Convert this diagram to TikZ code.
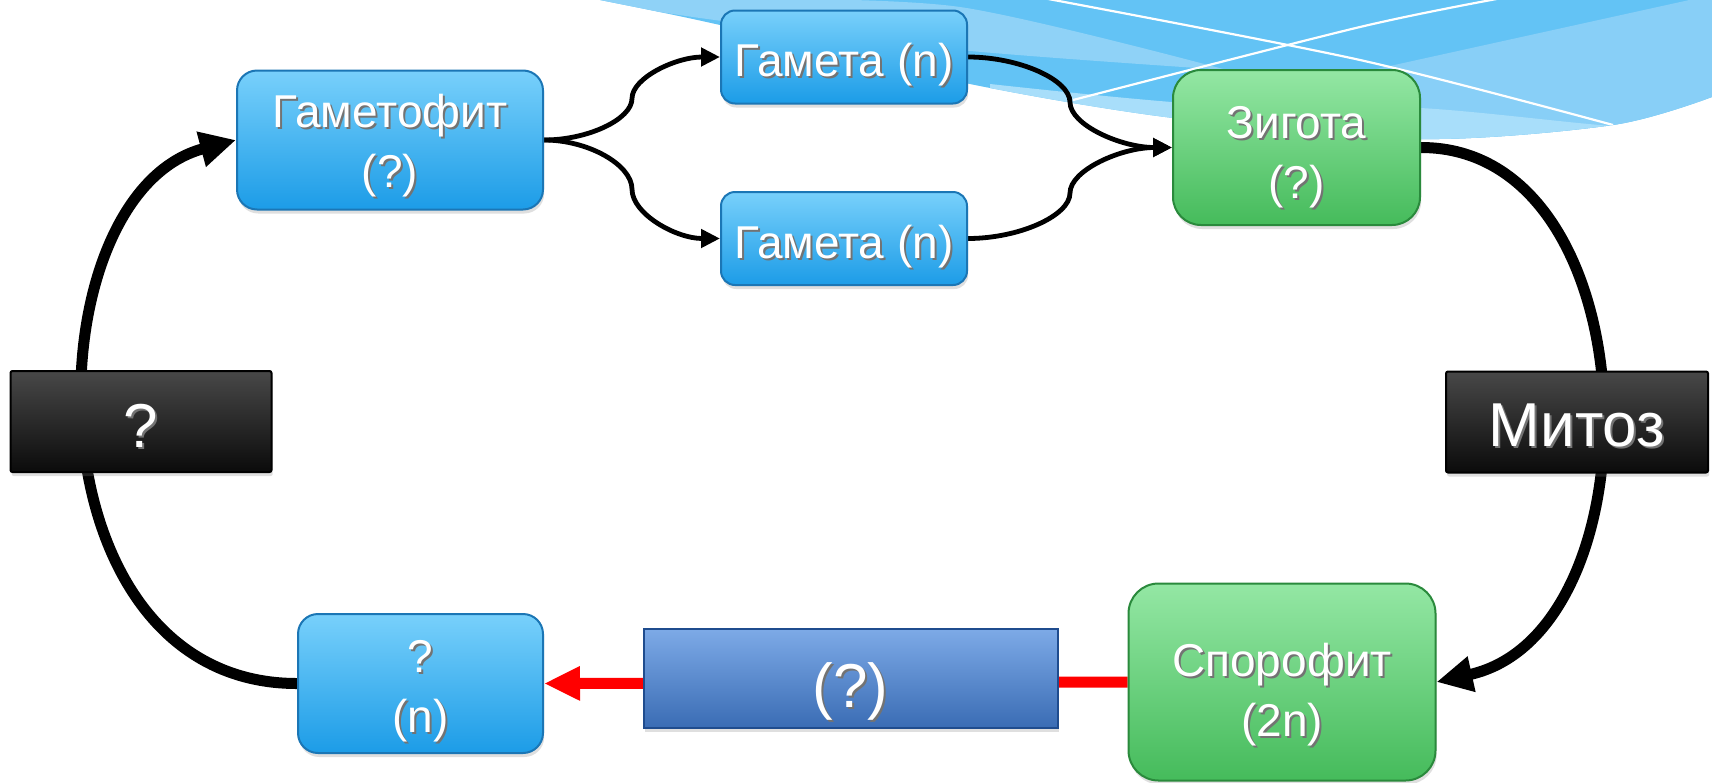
\documentclass[tikz,border=0pt]{standalone}
\usepackage{fontspec}
\setmainfont{Liberation Sans}
\usetikzlibrary{arrows.meta,calc,shadows}

\pgfdeclarelayer{waves}
\pgfdeclarelayer{links}
\pgfsetlayers{waves,links,main}

% palette
\definecolor{boxblueT}{HTML}{78D0FB}
\definecolor{boxblueB}{HTML}{1C9CE7}
\definecolor{boxblueL}{HTML}{1B76B5}
\definecolor{boxgreenT}{HTML}{94E7A4}
\definecolor{boxgreenB}{HTML}{45BB5B}
\definecolor{boxgreenL}{HTML}{2A8A3C}
\definecolor{boxdarkT}{HTML}{484848}
\definecolor{boxdarkB}{HTML}{0B0B0B}
\definecolor{barT}{HTML}{7DAAE7}
\definecolor{barB}{HTML}{3A6CB4}
\definecolor{barL}{HTML}{1F4C8E}
\definecolor{waveA}{HTML}{63C3F5}
\definecolor{waveB}{HTML}{8FD2F7}
\definecolor{waveC}{HTML}{88CFF7}
\definecolor{waveD}{HTML}{A8DEFA}
\definecolor{linkred}{HTML}{FF0000}

\newcommand\cardfont{\fontsize{23pt}{30pt}\selectfont}
\newcommand\labelfont{\fontsize{31pt}{36pt}\selectfont}
% white text with a small dark shadow
\newcommand\shtext[1]{\leavevmode\rlap{\hspace{1pt}\raisebox{-1pt}{\textcolor{black!55}{#1}}}#1}

% S-shaped elbow link between two anchors, passing through their midpoint
\newcommand\elbowlink[4]{%
  \coordinate (#4) at ($(#1)!0.5!(#2)$);
  \draw[#3] (#1) .. controls ($(#1)!0.5!(#4 |- #1)$) and ($(#4 |- #1)!0.5!(#4)$) .. (#4)
        .. controls ($(#4)!0.5!(#4 |- #2)$) and ($(#4 |- #2)!0.5!(#2)$) .. (#2);}

\tikzset{
  card/.style={inner sep=0pt, align=center, text=white, line width=1pt, font=\cardfont,
    drop shadow={shadow xshift=0.6pt, shadow yshift=-2pt, opacity=0.25}},
  bluecard/.style={card, draw=boxblueL, top color=boxblueT, bottom color=boxblueB, rounded corners=#1},
  bluecard/.default=10pt,
  greencard/.style={card, draw=boxgreenL, top color=boxgreenT, bottom color=boxgreenB, rounded corners=#1},
  greencard/.default=14pt,
  darkcard/.style={card, draw=black, top color=boxdarkT, bottom color=boxdarkB, rounded corners=1pt, font=\labelfont},
  barcard/.style={card, draw=barL, top color=barT, bottom color=barB, font=\labelfont},
  thickarc/.style={line width=5.5pt, -{Triangle[length=18pt,width=17pt]}},
  thinlink/.style={line width=2.4pt, -{Triangle[length=9.5pt,width=9pt]}},
  redlink/.style={line width=5.5pt, draw=linkred, -{Triangle[length=18pt,width=16pt]}},
}

\begin{document}
\begin{tikzpicture}[x=0.5pt, y=-0.5pt]
\useasboundingbox (0,0) rectangle (1712,782);

% ---- nodes ----
\node[bluecard, minimum width=153pt, minimum height=69.5pt, text height=53.4pt] (gf) at (390,140)
  {\shtext{Гаметофит}\\\shtext{(?)}};
\node[bluecard=7pt, minimum width=123pt, minimum height=46.5pt, text height=24.8pt, text depth=4.9pt] (g1) at (844,57)
  {\shtext{Гамета (n)}};
\node[bluecard=7pt, minimum width=123pt, minimum height=46.5pt, text height=24.8pt, text depth=4.9pt] (g2) at (844,238.5)
  {\shtext{Гамета (n)}};
\node[greencard, minimum width=123.5pt, minimum height=77.5pt, text height=56.6pt] (zy) at (1296.5,147.5)
  {\shtext{Зигота}\\\shtext{(?)}};
\node[darkcard, minimum width=131pt, minimum height=50.5pt, text height=24pt, text depth=0pt] (mz) at (1577,422)
  {\shtext{Митоз}};
\node[darkcard, minimum width=130.5pt, minimum height=50.5pt, text height=26pt, text depth=0pt] (qb) at (141,421.5)
  {\shtext{?}};
\node[greencard=15pt, minimum width=153.5pt, minimum height=98.5pt, text height=59.8pt] (sp) at (1282,682)
  {\shtext{Спорофит}\\\shtext{(2n)}};
\node[bluecard, minimum width=122.5pt, minimum height=69.5pt, text height=54.4pt] (qn) at (420.5,683.5)
  {\shtext{?}\\\shtext{(n)}};
\node[barcard, minimum width=207pt, minimum height=49.5pt, text height=35.6pt, text depth=6.6pt] (mr) at (850.5,678.5)
  {\shtext{(?)}};

% ---- page and decorative waves, top right ----
\begin{pgfonlayer}{waves}
\fill[white] (0,0) rectangle (1712,782);
\begin{scope}
  \clip plot[smooth] coordinates {(600,0) (720,25) (960,82) (1173,118) (1420,139) (1613,125) (1712,97)}
        -- (1712,0) -- cycle;
  \fill[waveA] (560,-5) rectangle (1712,200);
  \fill[waveB] plot[smooth] coordinates {(733,-1) (960,7) (1227,70)}
        -- plot[smooth] coordinates {(1227,70) (960,50) (700,18) (560,-5)} -- cycle;
  \fill[waveC] (1712,-5) -- (1290,88) -- (1430,160) -- (1712,160) -- cycle;
  \fill[waveD] plot[smooth] coordinates {(990,84) (1200,104) (1420,108) (1613,126) (1712,126)}
        -- (1712,200) -- (990,200) -- cycle;
  \draw[white, line width=1.1pt] plot[smooth] coordinates {(1043,-2) (1360,60) (1613,125)};
  \draw[white, line width=1.1pt] plot[smooth] coordinates {(1073,100) (1360,27) (1502,-2)};
\end{scope}
\end{pgfonlayer}

% ---- connectors ----
\begin{pgfonlayer}{links}
  \draw[thickarc] (zy.east) .. controls +(231,0) and +(224,-50) .. (sp.east);
  \draw[thickarc] (qn.west) .. controls +(-273,0) and +(-207,55) .. (gf.west);
  \draw[redlink] (sp.west) -- (qn.east);
  \elbowlink{gf.east}{g1.west}{thinlink}{ma}
  \elbowlink{gf.east}{g2.west}{thinlink}{mb}
  \elbowlink{g1.east}{zy.west}{thinlink}{mc}
  \elbowlink{g2.east}{zy.west}{thinlink}{md}
\end{pgfonlayer}
\end{tikzpicture}
\end{document}
